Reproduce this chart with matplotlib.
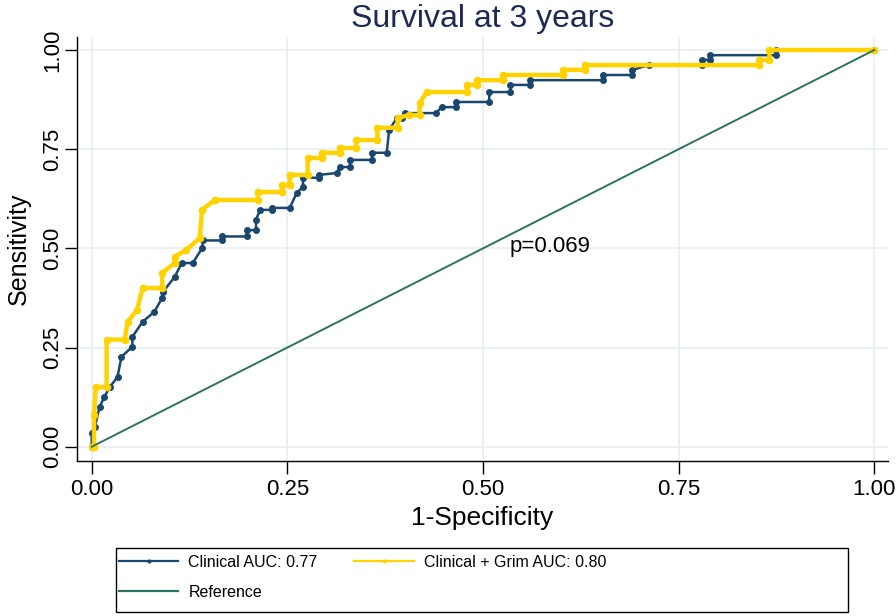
import matplotlib
matplotlib.use("Agg")
import matplotlib.pyplot as plt
from matplotlib.lines import Line2D
from matplotlib.patches import Rectangle

plt.rcParams['font.family'] = ['Liberation Sans', 'DejaVu Sans']

# ROC vertices (1-specificity, sensitivity)
clin_fpr = [0.0, 0.0, 0.004, 0.010, 0.016, 0.023, 0.033, 0.038, 0.052, 0.052, 0.065, 0.080,
            0.090, 0.091, 0.106, 0.115, 0.129, 0.141, 0.142, 0.166, 0.166, 0.198, 0.198, 0.210,
            0.210, 0.215, 0.231, 0.231, 0.253, 0.262, 0.270, 0.270, 0.290, 0.290, 0.313, 0.317,
            0.330, 0.330, 0.358, 0.358, 0.377, 0.380, 0.390, 0.397, 0.400, 0.440, 0.447, 0.466,
            0.466, 0.508, 0.508, 0.535, 0.535, 0.560, 0.560, 0.653, 0.653, 0.691, 0.691, 0.712,
            0.780, 0.780, 0.790, 0.790, 0.875, 0.875, 1.0]
clin_tpr = [0.0, 0.035, 0.050, 0.100, 0.125, 0.150, 0.176, 0.227, 0.252, 0.277, 0.315, 0.340,
            0.375, 0.390, 0.428, 0.463, 0.463, 0.500, 0.520, 0.520, 0.530, 0.530, 0.546, 0.546,
            0.572, 0.597, 0.597, 0.602, 0.602, 0.640, 0.655, 0.678, 0.678, 0.685, 0.690, 0.705,
            0.705, 0.723, 0.723, 0.741, 0.741, 0.798, 0.829, 0.829, 0.841, 0.841, 0.856, 0.856,
            0.869, 0.869, 0.894, 0.894, 0.912, 0.912, 0.924, 0.924, 0.937, 0.937, 0.950, 0.962,
            0.962, 0.975, 0.975, 0.987, 0.987, 1.0, 1.0]

grim_fpr = [0.0, 0.003, 0.003, 0.005, 0.019, 0.019, 0.042, 0.046, 0.058, 0.065, 0.090, 0.090,
            0.106, 0.106, 0.121, 0.138, 0.141, 0.157, 0.212, 0.212, 0.243, 0.243, 0.253, 0.253,
            0.276, 0.276, 0.294, 0.294, 0.317, 0.317, 0.338, 0.338, 0.365, 0.365, 0.391, 0.391,
            0.406, 0.419, 0.419, 0.428, 0.479, 0.479, 0.492, 0.492, 0.525, 0.525, 0.602, 0.602,
            0.630, 0.630, 0.853, 0.853, 0.866, 0.866, 1.0]
grim_tpr = [0.0, 0.0, 0.080, 0.150, 0.150, 0.270, 0.270, 0.315, 0.345, 0.400, 0.400, 0.438,
            0.463, 0.479, 0.496, 0.526, 0.597, 0.622, 0.622, 0.642, 0.642, 0.660, 0.660, 0.685,
            0.685, 0.728, 0.728, 0.741, 0.741, 0.753, 0.753, 0.773, 0.773, 0.804, 0.804, 0.829,
            0.836, 0.836, 0.867, 0.894, 0.894, 0.912, 0.912, 0.924, 0.924, 0.937, 0.937, 0.950,
            0.950, 0.962, 0.962, 0.975, 0.975, 1.0, 1.0]

ref_x = [0.0, 1.0]
ref_y = [0.0, 1.0]

ticks = [0.0, 0.25, 0.5, 0.75, 1.0]
tick_labels = ['0.00', '0.25', '0.50', '0.75', '1.00']

labels = ['Clinical AUC: 0.77', 'Clinical + Grim AUC: 0.80', 'Reference']
p_text = 'p=0.069'

c_blue = '#1a476f'
c_yellow = '#ffd200'
c_ref = '#2b7360'
c_grid = '#e6eef2'

fig = plt.figure(figsize=(8.96, 6.16), dpi=100)
ax = fig.add_axes([77 / 896, 155 / 616, 811 / 896, 424 / 616])

ax.plot(clin_fpr, clin_tpr, color=c_blue, lw=1.8, marker='o', ms=4, zorder=3)
ax.plot(grim_fpr, grim_tpr, color=c_yellow, lw=3.2, marker='o', ms=4.5, zorder=4)
ax.plot(ref_x, ref_y, color=c_ref, lw=1.4, zorder=5)

ax.text(0.534, 0.504, p_text, fontsize=16, va='center', ha='left')

ax.set_xlim(-0.0188, 1.0175)
ax.set_ylim(-0.036, 1.0328)
ax.set_xticks(ticks)
ax.set_xticklabels(tick_labels)
ax.set_yticks(ticks)
ax.set_yticklabels(tick_labels, rotation=90, va='center')
ax.tick_params(labelsize=16, length=9, width=1)
ax.tick_params(axis='x', pad=4)
ax.tick_params(axis='y', pad=1)
ax.grid(True, color=c_grid, lw=1.2)
ax.set_axisbelow(True)
for s in ['top', 'right']:
    ax.spines[s].set_visible(False)
for s in ['left', 'bottom']:
    ax.spines[s].set_linewidth(1)

ax.set_xlabel('1-Specificity', fontsize=19, labelpad=4)
ax.set_ylabel('Sensitivity', fontsize=18, labelpad=8)
ax.set_title('Survival at 3 years', fontsize=23, color='#1c2a55', pad=7)

# legend: filled row by row like the original (blue, yellow / reference)
h_blue = Line2D([], [], color=c_blue, lw=1.6, marker='o', ms=2)
h_yel = Line2D([], [], color=c_yellow, lw=1.6, marker='o', ms=2)
h_ref = Line2D([], [], color=c_ref, lw=1.6)
leg = fig.legend([h_blue, h_ref, h_yel], [labels[0], labels[2], labels[1]],
                 loc='upper left', ncol=2, bbox_to_anchor=(117 / 896, 1 - 553 / 616),
                 fontsize=11.5, borderaxespad=0,
                 handlelength=3.75, handletextpad=0.62, columnspacing=2.3, numpoints=1,
                 frameon=False, borderpad=0.1, labelspacing=0.95)
fig.add_artist(Rectangle((116 / 896, 4 / 616), 732 / 896, 64 / 616, transform=fig.transFigure,
                         fill=False, ec='black', lw=1))

fig.savefig('out.png', dpi=100)
